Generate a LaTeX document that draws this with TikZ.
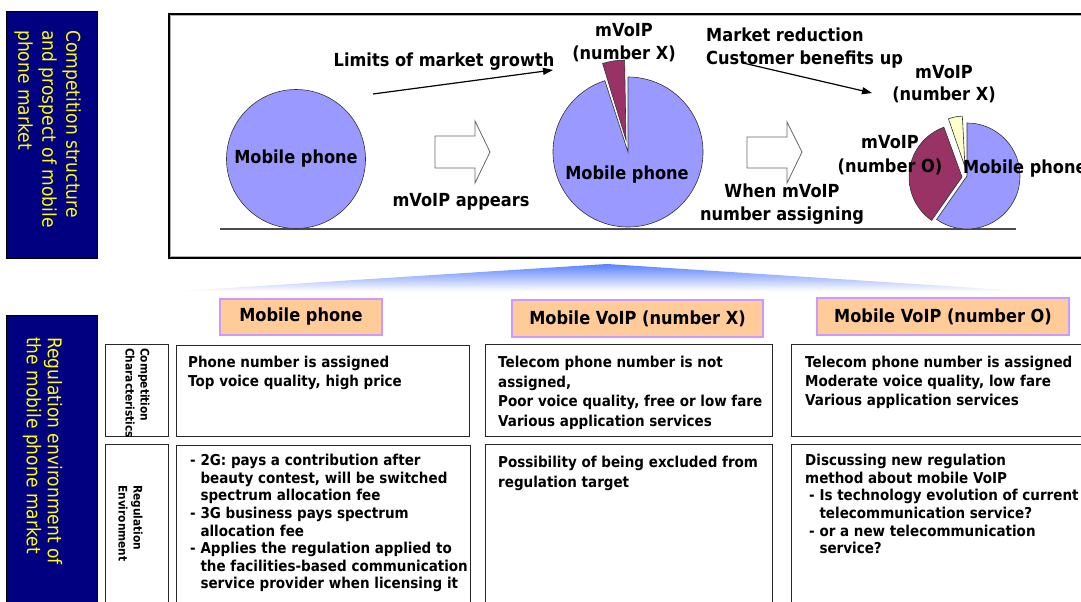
\documentclass[tikz,border=0pt]{standalone}
\usepackage{fontspec}
\setmainfont{DejaVu Sans}[FakeStretch=0.9]
\usetikzlibrary{arrows.meta}
\definecolor{navy}{RGB}{0,0,128}
\definecolor{ylw}{RGB}{255,255,0}
\definecolor{peri}{RGB}{153,153,255}
\definecolor{plum}{RGB}{153,51,102}
\definecolor{cream}{RGB}{255,255,204}
\definecolor{peach}{RGB}{255,204,153}
\definecolor{lav}{RGB}{204,153,255}
\definecolor{gshade}{RGB}{90,130,255}
\begin{document}
\begin{tikzpicture}[x=1pt,y=-1pt,
  sidebox/.style={draw=black, line width=1pt, fill=navy, anchor=north west, inner sep=0pt},
  sidetext/.style={text=ylw, font=\fontsize{19}{24}\selectfont, align=left, rotate=-90, anchor=west, inner sep=0pt},
  piedraw/.style={draw=black!80, line width=0.6pt},
  ttext/.style={font=\fontsize{18}{23}\selectfont\bfseries, inner sep=0pt, align=center},
  hollow/.style={draw=black!60, line width=0.8pt, fill=white},
  growarrow/.style={line width=1.2pt, -{Triangle[length=10pt,width=7pt]}},
  hdr/.style={draw=lav, line width=2.5pt, fill=peach, font=\fontsize{18}{22}\selectfont\bfseries, inner sep=0pt},
  cell/.style={draw=black!85, line width=1.3pt, anchor=north west, inner sep=0pt},
  rlab/.style={font=\fontsize{11.8}{15}\selectfont\bfseries, rotate=-90, anchor=west, align=left, inner sep=0pt},
  bt/.style={font=\fontsize{15}{19}\selectfont\bfseries, align=left, anchor=north west, inner sep=0pt}]
\useasboundingbox (0,0) rectangle (1081,602);

% ---------- left side bars ----------
\node[sidebox, minimum width=91pt, minimum height=247pt] (side1) at (6,11) {};
\node[sidetext] (side1t) at (47.5,30) {Competition structure\\and prospect of mobile\\phone market};
\node[sidebox, minimum width=91pt, minimum height=300pt] (side2) at (6,315) {};
\node[sidetext, font=\fontsize{19}{21}\selectfont] (side2t) at (42.5,337) {Regulation environment of\\the mobile phone market};

% ---------- top frame ----------
\node[draw=black, line width=3pt, anchor=north west, minimum width=932pt, minimum height=243pt, inner sep=0pt] (frame) at (168,13) {};
\draw[gray!60, line width=1pt] ([shift={(2.5,2.5)}]frame.north west) rectangle ([shift={(-2.5,-2.5)}]frame.south east);

\coordinate (bl) at (220,229);
\coordinate (br) at (1016,229);
\draw[black!70, line width=1.5pt] (bl) -- (br);

% circle 1
\node[circle, draw=black!80, line width=0.6pt, fill=peri, minimum size=139pt, inner sep=0pt, font=\fontsize{18}{22}\selectfont\bfseries] (mp1) at (296,159) {Mobile phone};

% hollow arrows
\draw[hollow] (435,136) -- (475,136) -- (475,121) -- (490,152) -- (475,183) -- (475,168) -- (435,168) -- cycle;
\draw[hollow] (747,137) -- (787,137) -- (787,122) -- (802,152) -- (787,183) -- (787,168) -- (747,168) -- cycle;

\node[ttext] (appear) at (461,202) {mVoIP appears};
\node[ttext] (limt) at (444,62) {Limits of market growth};
\coordinate (g1) at (373,94);
\coordinate (g2) at (553,70);
\draw[growarrow] (g1) -- (g2);

% pie 2
\draw[piedraw, fill=peri] (628,152) -- ++(-108:75) arc[start angle=-108, end angle=-450, radius=75] -- cycle;
\draw[piedraw, fill=plum] (626,140) -- ++(-91:80) arc[start angle=-91, end angle=-107, radius=80] -- cycle;
\node[ttext] (p2lab) at (624,43) {mVoIP\\(number X)};
\node[ttext] (p2mp) at (627,175) {Mobile phone};

% market reduction
\node[ttext, align=left, anchor=west] (mred) at (706,48) {Market reduction\\Customer benefits up};
\coordinate (c1) at (743,63);
\coordinate (c2) at (872,93);
\draw[growarrow] (c1) -- (c2);

\node[ttext] (when) at (782,204) {When mVoIP\\number assigning};

% pie 3
\draw[piedraw, fill=peri] (967,176) -- ++(125:53) arc[start angle=125, end angle=-90, radius=53] -- cycle;
\draw[piedraw, fill=plum] (962,177) -- ++(-110:53) arc[start angle=-110, end angle=-235, radius=53] -- cycle;
\draw[piedraw, fill=cream] (965,167) -- ++(-93:51) arc[start angle=-93, end angle=-109, radius=51] -- cycle;
\node[ttext, font=\fontsize{18}{22}\selectfont\bfseries] (p3x) at (944,84) {mVoIP\\(number X)};
\node[ttext, font=\fontsize{18}{23.4}\selectfont\bfseries] (p3o) at (890,155) {mVoIP\\(number O)};
\node[ttext, anchor=west] (p3mp) at (963,168.6) {Mobile phone};

% ---------- gradient fan ----------
\shade[top color=gshade, bottom color=white] (180,291) -- (607,264) -- (1023,291) -- cycle;

% ---------- headers ----------
\node[hdr, minimum width=162pt, minimum height=36pt] (h1) at (301,317) {Mobile phone};
\node[hdr, minimum width=251pt, minimum height=37pt] (h2) at (637.5,318.5) {Mobile VoIP (number X)};
\node[hdr, minimum width=252pt, minimum height=37pt] (h3) at (943,316.5) {Mobile VoIP (number O)};

% ---------- row labels ----------
\node[cell, minimum width=63pt, minimum height=92pt] (r1) at (105,344) {};
\node[rlab] (r1t) at (137.5,348) {Competition\\Characteristics};
\node[cell, minimum width=63pt, minimum height=170pt] (r2) at (105,444) {};
\node[rlab] (r2t) at (130.5,485) {Regulation\\Environment};

% ---------- cells ----------
\node[cell, minimum width=293pt, minimum height=91pt] (c11) at (176,345) {};
\node[cell, minimum width=287pt, minimum height=92pt] (c12) at (485,344) {};
\node[cell, minimum width=300pt, minimum height=92pt] (c13) at (791,344) {};
\node[cell, minimum width=294pt, minimum height=170pt] (c21) at (176,445) {};
\node[cell, minimum width=287pt, minimum height=170pt] (c22) at (485,444) {};
\node[cell, minimum width=300pt, minimum height=170pt] (c23) at (791,444) {};

\node[bt] (t11) at (188,356) {Phone number is assigned\\Top voice quality, high price};
\node[bt, font=\fontsize{15}{17.6}\selectfont\bfseries] (t21) at (190,454) {- 2G: pays a contribution after\\\phantom{- }beauty contest, will be switched\\\phantom{- }spectrum allocation fee\\- 3G business pays spectrum\\\phantom{- }allocation fee\\- Applies the regulation applied to\\\phantom{- }the facilities-based communication\\\phantom{- }service provider when licensing it};
\node[bt, font=\fontsize{15}{19.5}\selectfont\bfseries] (t12) at (498,356) {Telecom phone number is not\\assigned,\\Poor voice quality, free or low fare\\Various application services};
\node[bt, font=\fontsize{15}{20}\selectfont\bfseries] (t22) at (498,456) {Possibility of being excluded from\\regulation target};
\node[bt] (t13) at (805,356) {Telecom phone number is assigned\\Moderate voice quality, low fare\\Various application services};
\node[bt, font=\fontsize{15}{17.6}\selectfont\bfseries] (t23) at (805,454) {Discussing new regulation\\method about mobile VoIP\\\hspace*{4pt}- Is technology evolution of current\\\hspace*{4pt}\phantom{- }telecommunication service?\\\hspace*{4pt}- or a new telecommunication\\\hspace*{4pt}\phantom{- }service?};
\end{tikzpicture}
\end{document}
